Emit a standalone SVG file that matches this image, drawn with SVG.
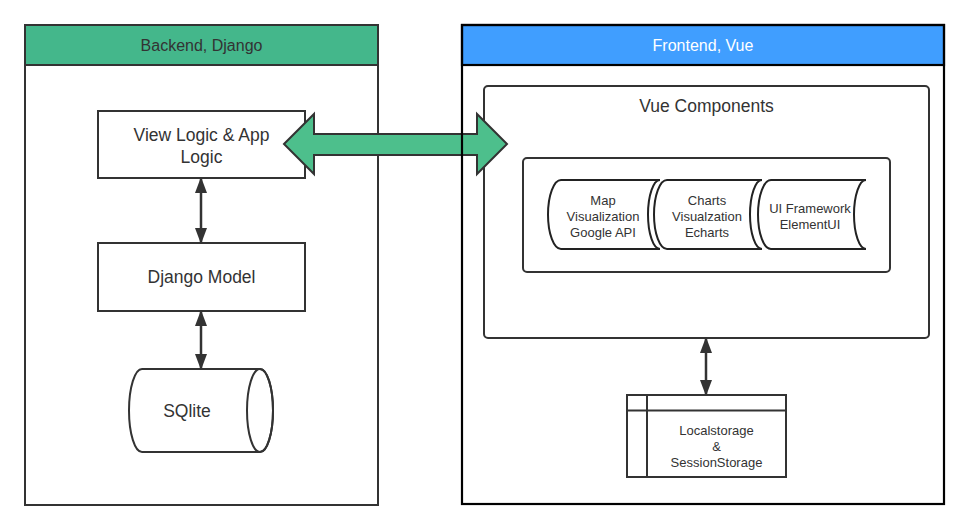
<svg xmlns="http://www.w3.org/2000/svg" width="970" height="531" viewBox="0 0 970 531">
<defs>
<style>
.t{font-family:"Liberation Sans",Arial,sans-serif;fill:#333;text-anchor:middle}
.b{fill:#fff;stroke:#333;stroke-width:2}
.s{fill:#fff;stroke:#222;stroke-width:2}
.ln{stroke:#333;stroke-width:2.5;fill:none}
</style>
<marker id="ah" viewBox="0 0 16 12" refX="15" refY="6" markerWidth="16" markerHeight="12" markerUnits="userSpaceOnUse" orient="auto-start-reverse">
<path d="M0,0 L16,6 L0,12 Z" fill="#333"/>
</marker>
</defs>
<rect width="970" height="531" fill="#fff"/>

<g id="backend">
<rect x="25" y="25" width="353" height="480" fill="#fff" stroke="#333" stroke-width="2"/>
<rect x="25" y="25" width="353" height="40" fill="#44b78b" stroke="#333" stroke-width="2"/>
<text class="t" x="201.5" y="51" font-size="16">Backend, Django</text>
</g>

<g id="frontend-panel">
<rect x="462" y="25" width="482" height="479" fill="#fff"/>
<rect x="462" y="25" width="482" height="40" fill="#409eff" stroke="#000" stroke-width="2.2"/>
<text class="t" x="703" y="51" font-size="16" style="fill:#fff">Frontend, Vue</text>
</g>

<g id="view-logic">
<rect class="b" x="98" y="111" width="207" height="67"/>
<text class="t" x="201.5" y="141" font-size="17.5">View Logic &amp; App</text>
<text class="t" x="201.5" y="163" font-size="17.5">Logic</text>
</g>

<g id="django-model">
<rect class="b" x="98" y="243" width="207" height="68"/>
<text class="t" x="201.5" y="283" font-size="17.5">Django Model</text>
</g>

<g id="sqlite">
<path class="b" d="M142,369 L260,369 A13,41.5 0 0 1 260,452 L142,452 A13,41.5 0 0 1 142,369 Z"/>
<ellipse cx="260" cy="410.5" rx="13" ry="41.5" fill="none" stroke="#333" stroke-width="2"/>
<text class="t" x="187" y="417" font-size="17.5">SQlite</text>
</g>

<g id="vue-components">
<rect class="b" x="484" y="86" width="445" height="252" rx="4"/>
<text class="t" x="706.5" y="112" font-size="17.5">Vue Components</text>
</g>

<g id="components-group">
<rect class="b" x="523" y="158" width="367" height="114" rx="4"/>
</g>

<g id="map">
<path class="s" d="M561,180 L660,180 A12,34.5 0 0 0 660,249 L561,249 A13,34.5 0 0 1 561,180 Z"/>
<text class="t" x="603" y="205" font-size="13">Map</text>
<text class="t" x="603" y="221" font-size="13">Visualization</text>
<text class="t" x="603" y="237" font-size="13">Google API</text>
</g>

<g id="charts">
<path class="s" d="M667,180 L762,180 A12,34.5 0 0 0 762,249 L667,249 A13,34.5 0 0 1 667,180 Z"/>
<text class="t" x="707" y="205" font-size="13">Charts</text>
<text class="t" x="707" y="221" font-size="13">Visualzation</text>
<text class="t" x="707" y="237" font-size="13">Echarts</text>
</g>

<g id="ui-framework">
<path class="s" d="M771,180 L866,180 A12,34.5 0 0 0 866,249 L771,249 A13,34.5 0 0 1 771,180 Z"/>
<text class="t" x="810" y="213" font-size="13">UI Framework</text>
<text class="t" x="810" y="229" font-size="13">ElementUI</text>
</g>

<g id="storage">
<rect class="b" x="627" y="395" width="159" height="82"/>
<line x1="647" y1="395" x2="647" y2="477" stroke="#333" stroke-width="2"/>
<line x1="627" y1="410.5" x2="786" y2="410.5" stroke="#333" stroke-width="2"/>
<text class="t" x="716.5" y="435" font-size="13">Localstorage</text>
<text class="t" x="716.5" y="451" font-size="13">&amp;</text>
<text class="t" x="716.5" y="467" font-size="13">SessionStorage</text>
</g>

<g id="connectors">
<line class="ln" x1="201" y1="178" x2="201" y2="243" marker-start="url(#ah)" marker-end="url(#ah)"/>
<line class="ln" x1="201" y1="311" x2="201" y2="369" marker-start="url(#ah)" marker-end="url(#ah)"/>
<line class="ln" x1="706" y1="338" x2="706" y2="395" marker-start="url(#ah)" marker-end="url(#ah)"/>
<polygon points="284,144 314,114 314,134 477,134 477,114 507,144 477,174 477,155 314,155 314,174" fill="#4dbf8c" stroke="#333" stroke-width="2" stroke-linejoin="miter"/>
</g>

<g id="frontend-border">
<rect x="462" y="25" width="482" height="479" fill="none" stroke="#000" stroke-width="2.2"/>
</g>
</svg>
